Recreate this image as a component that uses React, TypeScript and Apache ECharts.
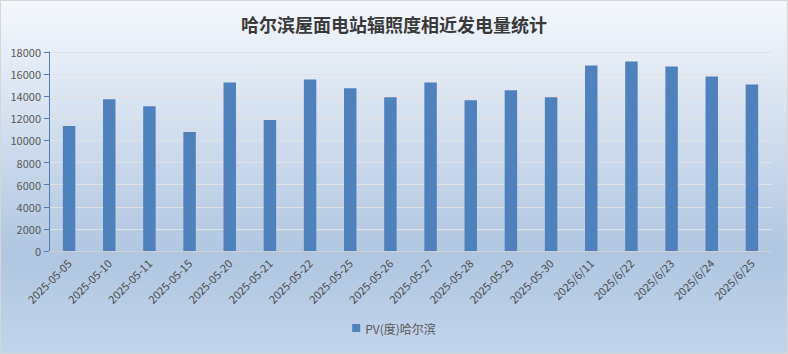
import React, { useEffect, useRef } from "react";
import * as echarts from "echarts";

const categories = [
  "2025-05-05", "2025-05-10", "2025-05-11", "2025-05-15", "2025-05-20", "2025-05-21",
  "2025-05-22", "2025-05-25", "2025-05-26", "2025-05-27", "2025-05-28", "2025-05-29",
  "2025-05-30", "2025/6/11", "2025/6/22", "2025/6/23", "2025/6/24", "2025/6/25",
];
const pvValues = [
  11300, 13720, 13100, 10760, 15250, 11840,
  15520, 14710, 13900, 15250, 13640, 14530,
  13900, 16770, 17130, 16680, 15790, 15070,
];
const seriesName = "PV(度)哈尔滨";
const titleText = "哈尔滨屋面电站辐照度相近发电量统计";

export default function App() {
  const ref = useRef<HTMLDivElement>(null);
  useEffect(() => {
    if (!ref.current) return;
    const chart = echarts.init(ref.current, null, { renderer: "svg" });
    chart.setOption({
      animation: false,
      backgroundColor: {
        type: "linear", x: 0, y: 0, x2: 0, y2: 1,
        colorStops: [
          { offset: 0, color: "#f4f7fc" },
          { offset: 0.72, color: "#b1c6e0" },
          { offset: 1, color: "#c2d4ea" },
        ],
      },
      title: {
        text: titleText,
        left: "center",
        top: 9,
        textStyle: {
          fontFamily: "Noto Sans CJK SC",
          fontSize: 18,
          fontWeight: "bold",
          color: "#3a3a3a",
        },
      },
      legend: {
        bottom: 14,
        left: "center",
        itemWidth: 8,
        itemHeight: 8,
        icon: "rect",
        textStyle: { fontFamily: "Noto Sans CJK SC", fontSize: 12, color: "#595959" },
        data: [seriesName],
      },
      grid: { left: 48, right: 15, top: 51, bottom: 102, containLabel: false },
      xAxis: {
        type: "category",
        data: categories,
        axisLine: { lineStyle: { color: "#d0d0d0", width: 1 } },
        axisTick: { show: false },
        axisLabel: {
          rotate: 45,
          interval: 0,
          margin: 10,
          fontFamily: "Noto Sans CJK SC",
          fontSize: 11,
          color: "#4a4a4a",
        },
      },
      yAxis: {
        type: "value",
        min: 0,
        max: 18000,
        interval: 2000,
        axisLine: { show: true, lineStyle: { color: "#4a7ebb", width: 1 } },
        axisTick: { show: true, length: 5, lineStyle: { color: "#4a7ebb" } },
        axisLabel: {
          margin: 8,
          fontFamily: "Noto Sans CJK SC",
          fontSize: 11,
          color: "#595959",
          formatter: (v: number) => String(v),
        },
        splitLine: { lineStyle: { color: "#e2e2e2", width: 1 } },
      },
      series: [
        {
          name: seriesName,
          type: "bar",
          data: pvValues,
          barWidth: "31%",
          itemStyle: { color: "#4f81bd" },
        },
      ],
    });
    return () => chart.dispose();
  }, []);
  return (
    <div
      ref={ref}
      style={{
        position: "absolute",
        left: 0,
        top: 0,
        width: 788,
        height: 354,
        boxSizing: "border-box",
        border: "1px solid #d6d6d6",
      }}
    />
  );
}
